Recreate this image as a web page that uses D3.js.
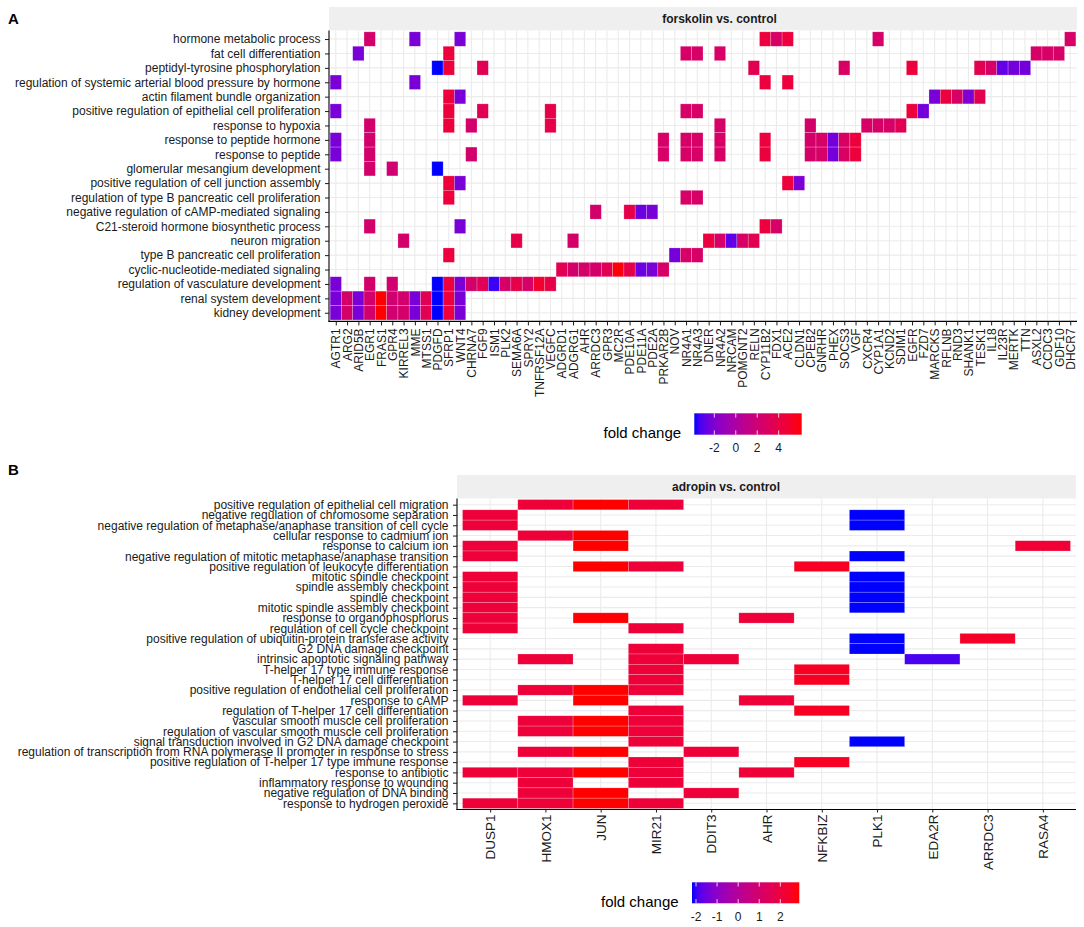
<!DOCTYPE html>
<html><head><meta charset="utf-8">
<script src="https://cdn.jsdelivr.net/npm/d3@7"></script>
<style>
body{margin:0;background:#fff;}
text{font-family:"Liberation Sans",Arial,Helvetica,sans-serif;}
</style></head><body>
<svg id="chart" width="1084" height="927"></svg>
<script>
// ---------- Panel A data (forskolin vs. control) ----------
const genesA = ["AGTR1","ARG2","ARID5B","EGR1","FRAS1","GPR4","KIRREL3","MME","MTSS1","PDGFD","SFRP1","WNT4",
  "CHRNA7","FGF9","ISM1","PLK2","SEMA6A","SPRY2","TNFRSF12A","VEGFC","ADGRD1","ADGRG1","AHR","ARRDC3","GPR3",
  "MC2R","PDE10A","PDE11A","PDE2A","PRKAR2B","NOV","NR4A1","NR4A3","DNER","NR4A2","NRCAM","POMGNT2","RELN",
  "CYP11B2","FDX1","ACE2","CLDN1","CPEB2","GNRHR","PHEX","SOCS3","VGF","CXCR4","CYP1A1","KCND2","SDIM1","EGFR",
  "FZD7","MARCKS","RFLNB","RND3","SHANK1","TESK1","IL18","IL23R","MERTK","TTN","ASXL2","CCDC3","GDF10","DHCR7"];
const foldA = [-2.2, 2.5, -2.2, 2.4, 6.15, 2.2, 2.4, -2.2, 3.5, -3.87, 4.5, -2.2,
  2.4, 3.5, -3.5, 2.6, 3.9, 2.6, 5.0, 3.9, 3.5, 2.5, 2.5, 2.5, 3.5,
  6.0, 3.9, -2.6, -2.2, 2.6, -2.3, 2.6, 2.6, 4.4, 2.6, -2.9, 2.6, 3.6,
  4.4, 2.6, 4.5, -2.1, 2.5, 2.6, -2.4, 2.8, 4.5, 2.6, 2.6, 2.6, 3.5, 4.5,
  -2.3, -2.2, 4.3, 2.7, -2.0, 3.6, 2.6, -2.8, -2.4, -2.4, 2.6, 2.6, 2.6, 2.6];
const termsA = ["hormone metabolic process","fat cell differentiation","peptidyl-tyrosine phosphorylation",
  "regulation of systemic arterial blood pressure by hormone","actin filament bundle organization",
  "positive regulation of epithelial cell proliferation","response to hypoxia","response to peptide hormone",
  "response to peptide","glomerular mesangium development","positive regulation of cell junction assembly",
  "regulation of type B pancreatic cell proliferation","negative regulation of cAMP-mediated signaling",
  "C21-steroid hormone biosynthetic process","neuron migration","type B pancreatic cell proliferation",
  "cyclic-nucleotide-mediated signaling","regulation of vasculature development","renal system development",
  "kidney development"];
const termGenesA = [
  ["EGR1","MME","WNT4","CYP11B2","FDX1","ACE2","CYP1A1","DHCR7"],
  ["ARID5B","SFRP1","NR4A1","NR4A3","NR4A2","ASXL2","CCDC3","GDF10"],
  ["PDGFD","SFRP1","FGF9","RELN","SOCS3","EGFR","TESK1","IL18","IL23R","MERTK","TTN"],
  ["AGTR1","MME","CYP11B2","ACE2"],
  ["SFRP1","WNT4","MARCKS","RFLNB","RND3","SHANK1","TESK1"],
  ["AGTR1","SFRP1","FGF9","VEGFC","NR4A1","NR4A3","EGFR","FZD7"],
  ["EGR1","SFRP1","CHRNA7","VEGFC","NR4A2","CPEB2","CXCR4","CYP1A1","KCND2","SDIM1"],
  ["AGTR1","EGR1","PRKAR2B","NR4A1","NR4A3","NR4A2","CYP11B2","CPEB2","GNRHR","PHEX","SOCS3","VGF"],
  ["AGTR1","EGR1","CHRNA7","PRKAR2B","NR4A1","NR4A3","NR4A2","CYP11B2","CPEB2","GNRHR","PHEX","SOCS3","VGF"],
  ["EGR1","GPR4","PDGFD"],
  ["SFRP1","WNT4","ACE2","CLDN1"],
  ["SFRP1","NR4A1","NR4A3"],
  ["ARRDC3","PDE10A","PDE11A","PDE2A"],
  ["EGR1","WNT4","CYP11B2","FDX1"],
  ["KIRREL3","SEMA6A","ADGRG1","DNER","NR4A2","NRCAM","POMGNT2","RELN"],
  ["SFRP1","NOV","NR4A1","NR4A3"],
  ["ADGRD1","ADGRG1","AHR","ARRDC3","GPR3","MC2R","PDE10A","PDE11A","PDE2A","PRKAR2B"],
  ["AGTR1","EGR1","GPR4","PDGFD","SFRP1","WNT4","CHRNA7","FGF9","ISM1","PLK2","SEMA6A","SPRY2","TNFRSF12A","VEGFC"],
  ["AGTR1","ARG2","ARID5B","EGR1","FRAS1","GPR4","KIRREL3","MME","MTSS1","PDGFD","SFRP1","WNT4"],
  ["AGTR1","ARG2","ARID5B","EGR1","FRAS1","GPR4","KIRREL3","MME","MTSS1","PDGFD","SFRP1","WNT4"]
];
const legendTicksA = [-2, 0, 2, 4];

// ---------- Panel B data (adropin vs. control) ----------
const genesB = ["DUSP1","HMOX1","JUN","MIR21","DDIT3","AHR","NFKBIZ","PLK1","EDA2R","ARRDC3","RASA4"];
const foldB = [2.1, 2.1, 2.9, 2.1, 2.1, 2.1, 2.5, -2.19, -1.9, 2.4, 2.2];
const termsB = ["positive regulation of epithelial cell migration","negative regulation of chromosome separation",
  "negative regulation of metaphase/anaphase transition of cell cycle","cellular response to cadmium ion",
  "response to calcium ion","negative regulation of mitotic metaphase/anaphase transition",
  "positive regulation of leukocyte differentiation","mitotic spindle checkpoint","spindle assembly checkpoint",
  "spindle checkpoint","mitotic spindle assembly checkpoint","response to organophosphorus",
  "regulation of cell cycle checkpoint","positive regulation of ubiquitin-protein transferase activity",
  "G2 DNA damage checkpoint","intrinsic apoptotic signaling pathway","T-helper 17 type immune response",
  "T-helper 17 cell differentiation","positive regulation of endothelial cell proliferation","response to cAMP",
  "regulation of T-helper 17 cell differentiation","vascular smooth muscle cell proliferation",
  "regulation of vascular smooth muscle cell proliferation","signal transduction involved in G2 DNA damage checkpoint",
  "regulation of transcription from RNA polymerase II promoter in response to stress",
  "positive regulation of T-helper 17 type immune response","response to antibiotic",
  "inflammatory response to wounding","negative regulation of DNA binding","response to hydrogen peroxide"];
const termGenesB = [
  ["HMOX1","JUN","MIR21"],
  ["DUSP1","PLK1"],
  ["DUSP1","PLK1"],
  ["HMOX1","JUN"],
  ["DUSP1","JUN","RASA4"],
  ["DUSP1","PLK1"],
  ["JUN","MIR21","NFKBIZ"],
  ["DUSP1","PLK1"],
  ["DUSP1","PLK1"],
  ["DUSP1","PLK1"],
  ["DUSP1","PLK1"],
  ["DUSP1","JUN","AHR"],
  ["DUSP1","MIR21"],
  ["PLK1","ARRDC3"],
  ["MIR21","PLK1"],
  ["HMOX1","MIR21","DDIT3","EDA2R"],
  ["MIR21","NFKBIZ"],
  ["MIR21","NFKBIZ"],
  ["HMOX1","JUN","MIR21"],
  ["DUSP1","JUN","AHR"],
  ["MIR21","NFKBIZ"],
  ["HMOX1","JUN","MIR21"],
  ["HMOX1","JUN","MIR21"],
  ["MIR21","PLK1"],
  ["HMOX1","JUN","DDIT3"],
  ["MIR21","NFKBIZ"],
  ["DUSP1","HMOX1","JUN","MIR21","AHR"],
  ["HMOX1","MIR21"],
  ["HMOX1","JUN","DDIT3"],
  ["DUSP1","HMOX1","JUN","MIR21"]
];
const legendTicksB = [-2, -1, 0, 1, 2];

// ---------- drawing ----------
const svg = d3.select("#chart");

function drawPanel(o) {
  const g = svg.append("g");
  const x = d3.scalePoint().domain(o.genes).range([o.left, o.right]).padding(0.6);
  const y = d3.scalePoint().domain(o.terms).range([o.top, o.bottom]).padding(0.6);
  const ext = d3.extent(o.fold);
  const color = d3.scaleLinear().domain(ext).range(["#0000ff", "#ff0000"]).interpolate(d3.interpolateLab);
  const fc = new Map(o.genes.map((gn, i) => [gn, o.fold[i]]));
  const sx = x.step(), sy = y.step();

  // strip
  g.append("rect").attr("x", o.left).attr("y", o.stripTop)
    .attr("width", o.right - o.left).attr("height", o.top - o.stripTop).attr("fill", "#efefef");
  g.append("text").attr("x", o.stripTextX).attr("y", o.stripBase).attr("text-anchor", "middle")
    .attr("font-size", 12).attr("font-weight", "bold").attr("fill", "#1a1a1a").text(o.strip);

  // grid
  g.append("g").selectAll("line").data(o.genes).join("line")
    .attr("x1", d => x(d)).attr("x2", d => x(d)).attr("y1", o.top).attr("y2", o.bottom)
    .attr("stroke", "#ebebeb").attr("stroke-width", 1.1);
  g.append("g").selectAll("line").data(o.terms).join("line")
    .attr("y1", d => y(d)).attr("y2", d => y(d)).attr("x1", o.left).attr("x2", o.right)
    .attr("stroke", "#ebebeb").attr("stroke-width", 1.1);

  // tiles
  const cells = o.terms.flatMap((t, i) => o.termGenes[i].map(gn => ({ term: t, gene: gn, v: fc.get(gn) })));
  g.append("g").selectAll("rect").data(cells).join("rect")
    .attr("x", d => x(d.gene) - sx / 2).attr("y", d => y(d.term) - sy / 2)
    .attr("width", sx).attr("height", sy)
    .attr("fill", d => color(d.v))
    .attr("stroke", "rgba(255,255,255,0.35)").attr("stroke-width", 0.6);

  // axes
  const ay = g.append("g").attr("transform", `translate(${o.left},0)`)
    .call(d3.axisLeft(y).tickSize(4).tickSizeOuter(0).tickPadding(4.5));
  ay.selectAll("text").attr("font-size", 12).attr("fill", "#1a1a1a")
    .attr("font-family", '"Liberation Sans",Arial,Helvetica,sans-serif');
  const ax = g.append("g").attr("transform", `translate(0,${o.bottom})`)
    .call(d3.axisBottom(x).tickSize(o.xTick).tickSizeOuter(0));
  ax.selectAll("text").attr("font-size", o.xFont).attr("fill", "#1a1a1a")
    .attr("font-family", '"Liberation Sans",Arial,Helvetica,sans-serif')
    .attr("transform", "rotate(-90)").attr("text-anchor", "end")
    .attr("x", -(o.xTick + o.xPad)).attr("y", 0).attr("dy", "0.35em");
  [ay, ax].forEach(a => {
    a.select(".domain").attr("stroke", "#000").attr("stroke-width", 1.1);
    a.selectAll(".tick line").attr("stroke", "#1a1a1a").attr("stroke-width", 1);
  });
  ay.select(".domain").attr("d", `M0,${o.top}V${o.bottom + 0.5}`);
  ax.select(".domain").attr("d", `M${o.left - 0.5},0H${o.right}`);

  // legend
  const L = o.legend;
  const lx = d3.scaleLinear().domain(ext).range([L.x0, L.x1]);
  const gid = "grad" + o.id;
  const grad = svg.append("defs").append("linearGradient").attr("id", gid)
    .attr("x1", "0%").attr("x2", "100%").attr("y1", "0%").attr("y2", "0%");
  d3.range(0, 1.0001, 0.05).forEach(t => {
    grad.append("stop").attr("offset", (t * 100) + "%").attr("stop-color", color(ext[0] + t * (ext[1] - ext[0])));
  });
  g.append("rect").attr("x", L.x0).attr("y", L.y0).attr("width", L.x1 - L.x0).attr("height", L.y1 - L.y0)
    .attr("fill", `url(#${gid})`);
  const th = (L.y1 - L.y0) / 5;
  L.ticks.forEach(tv => {
    const px = lx(tv);
    g.append("line").attr("x1", px).attr("x2", px).attr("y1", L.y0).attr("y2", L.y0 + th)
      .attr("stroke", "#fff").attr("stroke-width", 0.8);
    g.append("line").attr("x1", px).attr("x2", px).attr("y1", L.y1 - th).attr("y2", L.y1)
      .attr("stroke", "#fff").attr("stroke-width", 0.8);
    g.append("text").attr("x", px).attr("y", L.labBase).attr("text-anchor", "middle")
      .attr("font-size", 12).attr("fill", "#1a1a1a").text(tv);
  });
  g.append("text").attr("x", L.titleX).attr("y", L.titleBase).attr("font-size", 15)
    .attr("fill", "#000").text("fold change");

  // panel tag
  g.append("text").attr("x", 8).attr("y", o.tagBase).attr("font-size", 15).attr("font-weight", "bold")
    .attr("fill", "#000").text(o.tag);
}

drawPanel({
  id: "A", tag: "A", tagBase: 23.5,
  genes: genesA, fold: foldA, terms: termsA, termGenes: termGenesA,
  left: 329, right: 1077, top: 30.4, bottom: 321.4,
  stripTop: 7, strip: "forskolin vs. control", stripTextX: 719.5, stripBase: 22.5,
  xFont: 12, xTick: 4, xPad: 3,
  legend: { x0: 694.3, x1: 801.7, y0: 413.3, y1: 434.7, ticks: legendTicksA, labBase: 452,
            titleX: 603.5, titleBase: 437.5 }
});
drawPanel({
  id: "B", tag: "B", tagBase: 475,
  genes: genesB, fold: foldB, terms: termsB, termGenes: termGenesB,
  left: 457, right: 1076, top: 498.5, bottom: 809.5,
  stripTop: 475, strip: "adropin vs. control", stripTextX: 726, stripBase: 491,
  xFont: 13.5, xTick: 3, xPad: 2,
  legend: { x0: 692, x1: 799.3, y0: 882.3, y1: 903.3, ticks: legendTicksB, labBase: 921,
            titleX: 601, titleBase: 907 }
});
</script>
</body></html>
